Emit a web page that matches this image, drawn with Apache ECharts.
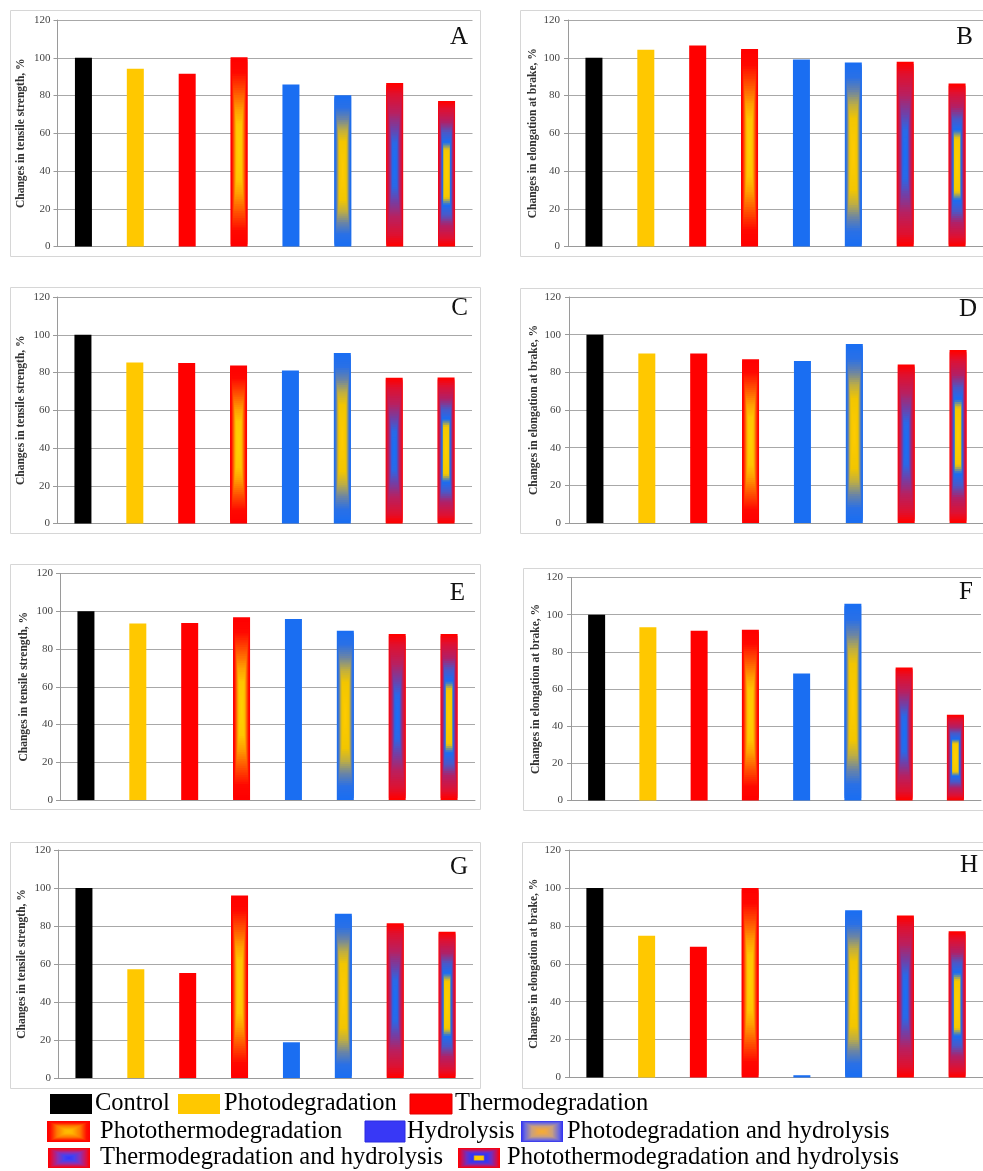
<!DOCTYPE html>
<html><head><meta charset="utf-8">
<script src="https://cdn.jsdelivr.net/npm/echarts@6/dist/echarts.min.js"></script>
<style>html,body{margin:0;padding:0;background:#fff;}#c{width:983px;height:1171px;}</style>
</head><body><div id="c"></div>
<script>
// ---------------- DATA ----------------
const categories = ['Control','Photodegradation','Thermodegradation','Photothermodegradation','Hydrolysis','Photodegradation and hydrolysis','Thermodegradation and hydrolysis','Photothermodegradation and hydrolysis'];
const panelLetters = ['A','B','C','D','E','F','G','H'];
const valuesA = [100, 94.2, 91.5, 100.3, 85.8, 80.1, 86.6, 77.1];
const valuesB = [100, 104.2, 106.5, 104.6, 99.1, 97.5, 97.9, 86.3];
const valuesC = [100, 85.3, 85.0, 83.7, 81.0, 90.3, 77.2, 77.3];
const valuesD = [100, 90.0, 90.0, 87.0, 86.0, 95.0, 84.2, 91.8];
const valuesE = [100, 93.5, 93.8, 96.8, 95.9, 89.7, 88.0, 88.0];
const valuesF = [100, 93.2, 91.4, 91.9, 68.4, 105.9, 71.6, 46.1];
const valuesG = [100, 57.3, 55.2, 96.1, 18.8, 86.5, 81.5, 77.0];
const valuesH = [100, 74.8, 69.0, 100, 1.2, 88.2, 85.4, 77.1];
const yTickLabels = [0, 20, 40, 60, 80, 100, 120];
const yNameTensile = 'Changes in tensile strength, %';
const yNameElong = 'Changes in elongation at brake, %';

// ---------------- STYLES / LAYOUT ----------------
const panelValues = [valuesA, valuesB, valuesC, valuesD, valuesE, valuesF, valuesG, valuesH];
const panelNames = [yNameTensile, yNameElong, yNameTensile, yNameElong, yNameTensile, yNameElong, yNameTensile, yNameElong];
const gridBoxes = [
  {left:57.5, top:20, width:415, height:226.5},
  {left:568, top:20, width:415, height:226.5},
  {left:57, top:297, width:415, height:226.5},
  {left:569, top:297, width:415, height:226},
  {left:60, top:573.5, width:415, height:226.5},
  {left:571, top:577.5, width:410, height:223},
  {left:58, top:850, width:415, height:228},
  {left:569, top:850, width:414, height:227.5}
];
const frames = [
  [10,10,470,246],[520,10,470,246],
  [10,287,470,246],[520,288,470,245],
  [10,564,470,245],[523,568,470,242],
  [10,842,470,246],[522,842,470,246]
];
const letterPos = [[468,37],[973,37],[468,308],[977,309],[465,593],[973,592],[468,867],[978,865]];
const BAR_W = 17;
const SERIF = "'Liberation Serif','Times New Roman',serif";

const barStyles = [
  {solid:'#000000'},
  {solid:'#ffc800'},
  {solid:'#ff0000'},
  {stops:[[0,'#ff0000'],[0.15,'#ff0800'],[0.35,'#ff5200'],[0.55,'#ffa000'],[0.7,'#ffc600'],[1,'#ffd200']]},
  {solid:'#1a6ef2'},
  {stops:[[0,'#1a6ef2'],[0.15,'#2a70e6'],[0.3,'#6a84a6'],[0.45,'#bfae42'],[0.6,'#f2c600'],[1,'#ffcc00']]},
  {stops:[[0,'#ff0000'],[0.12,'#e0102e'],[0.35,'#b82060'],[0.55,'#7040a8'],[0.72,'#2a68e6'],[1,'#1a70f8']]},
  {stops:[[0,'#ff0000'],[0.1,'#e01030'],[0.28,'#b02068'],[0.42,'#4a58c8'],[0.56,'#1a6ef2'],[0.66,'#f6c800'],[1,'#ffd000']]}
];
const legendStyles = [
  {solid:'#000000'},
  {solid:'#ffc800'},
  {solid:'#ff0000', border:'#e00000'},
  {stops:[[0,'#ff0000'],[0.15,'#ff1000'],[0.45,'#ff7800'],[0.8,'#ffb400'],[1,'#ffc000']]},
  {solid:'#3838f6', border:'#2a2ae0'},
  {stops:[[0,'#3333f0'],[0.18,'#6a6ae0'],[0.5,'#c8a080'],[0.8,'#eea848'],[1,'#f4b030']]},
  {stops:[[0,'#ff0000'],[0.15,'#e01040'],[0.45,'#9030b0'],[0.75,'#4444f0'],[1,'#3333ff']]},
  {stops:[[0,'#ff0000'],[0.15,'#d01050'],[0.4,'#7030c0'],[0.6,'#3838f0'],[0.72,'#3333f0'],[0.78,'#ffc800'],[1,'#ffcc00']]}
];
const legendItems = [
  {sw:[50,1094,42,20], tx:[95,1104]},
  {sw:[178,1094,42,20], tx:[224,1104]},
  {sw:[410,1094,42,20], tx:[455,1104]},
  {sw:[47,1121,43,21], tx:[100,1132]},
  {sw:[365,1121,40,21], tx:[407,1132]},
  {sw:[521,1121,42,21], tx:[567,1132]},
  {sw:[48,1148,42,20], tx:[100,1158]},
  {sw:[458,1148,42,20], tx:[507,1158]}
];

function hexToRgb(h){h=h.replace('#','');return [parseInt(h.substr(0,2),16),parseInt(h.substr(2,2),16),parseInt(h.substr(4,2),16)];}
function ramp(stops,t){
  for(let i=0;i<stops.length-1;i++){
    const a=stops[i],b=stops[i+1];
    if(t>=a[0]&&t<=b[0]){
      const f=(t-a[0])/((b[0]-a[0])||1);const ca=hexToRgb(a[1]),cb=hexToRgb(b[1]);
      return 'rgb('+ca.map((c,k)=>Math.round(c+(cb[k]-c)*f)).join(',')+')';
    }
  }
  return stops[stops.length-1][1];
}
function nestedRects(x,y,w,h,st){
  if(st.solid){
    const r={type:'rect',shape:{x:x,y:y,width:w,height:h},style:{fill:st.solid}};
    if(st.border){r.style.stroke=st.border;r.style.lineWidth=1;}
    return [r];
  }
  const N=40,cx=x+w/2,cy=y+h/2,out=[];
  for(let k=0;k<N;k++){
    const s=1-k/N;
    out.push({type:'rect',shape:{x:cx-w*s/2,y:cy-h*s/2,width:w*s,height:h*s},style:{fill:ramp(st.stops,k/N)}});
  }
  return out;
}
function renderBar(params,api){
  const ci=api.value(0),v=api.value(1);
  const top=api.coord([ci,v]),base=api.coord([ci,0]);
  const h=base[1]-top[1];
  return {type:'group',children:nestedRects(top[0]-BAR_W/2,top[1],BAR_W,h,barStyles[ci])};
}

const grids=[],xAxes=[],yAxes=[],series=[],graphics=[];
frames.forEach(f=>graphics.push({type:'rect',shape:{x:f[0]+0.5,y:f[1]+0.5,width:f[2],height:f[3]},style:{fill:'none',stroke:'#d6d6d6',lineWidth:1},z:0}));
panelValues.forEach((vals,i)=>{
  const g=gridBoxes[i];
  grids.push({left:g.left,top:g.top,width:g.width,height:g.height,outerBoundsMode:'none',containLabel:false});
  xAxes.push({type:'category',gridIndex:i,data:categories,boundaryGap:true,
    axisLine:{show:true,lineStyle:{color:'#9a9a9a',width:1}},axisTick:{show:false},axisLabel:{show:false},splitLine:{show:false}});
  yAxes.push({type:'value',gridIndex:i,min:yTickLabels[0],max:yTickLabels[yTickLabels.length-1],interval:yTickLabels[1]-yTickLabels[0],
    name:panelNames[i],nameLocation:'middle',nameGap:(i%2===0?30:29),
    nameTextStyle:{fontFamily:SERIF,fontWeight:'bold',fontSize:11.5,color:'#333'},
    axisLine:{show:true,lineStyle:{color:'#9a9a9a',width:1}},
    axisTick:{show:true,length:4,lineStyle:{color:'#9a9a9a'}},
    axisLabel:{margin:(i%2===0?7:8),fontFamily:SERIF,fontSize:11,color:'#444'},
    splitLine:{show:true,lineStyle:{color:'#a8a8a8',width:1}}});
  series.push({type:'custom',xAxisIndex:i,yAxisIndex:i,renderItem:renderBar,encode:{x:0,y:1},
    data:vals.map((v,j)=>[j,v]),clip:false,silent:true,z:3});
  graphics.push({type:'text',x:letterPos[i][0],y:letterPos[i][1],style:{text:panelLetters[i],fontFamily:SERIF,fontSize:25,fill:'#111',align:'right',verticalAlign:'middle'},z:5});
});
legendItems.forEach((it,i)=>{
  const s=it.sw;
  graphics.push({type:'group',children:nestedRects(s[0],s[1],s[2],s[3],legendStyles[i]),z:5});
  graphics.push({type:'text',x:it.tx[0],y:it.tx[1],style:{text:categories[i],fontFamily:SERIF,fontSize:24.5,fill:'#000',align:'left',verticalAlign:'middle'},z:5});
});

const chart=echarts.init(document.getElementById('c'),null,{renderer:'canvas'});
chart.setOption({backgroundColor:'#fff',animation:false,grid:grids,xAxis:xAxes,yAxis:yAxes,series:series,graphic:graphics});
</script></body></html>
